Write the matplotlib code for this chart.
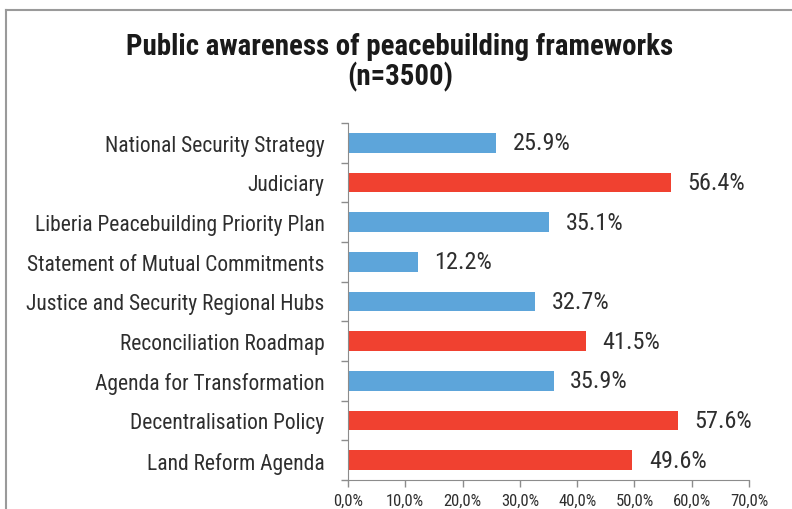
import matplotlib
matplotlib.use("Agg")
import matplotlib.pyplot as plt
from matplotlib.lines import Line2D
from matplotlib.ticker import FixedLocator, FuncFormatter
import numpy as np

categories = [
    "National Security Strategy",
    "Judiciary",
    "Liberia Peacebuilding Priority Plan",
    "Statement of Mutual Commitments",
    "Justice and Security Regional Hubs",
    "Reconciliation Roadmap",
    "Agenda for Transformation",
    "Decentralisation Policy",
    "Land Reform Agenda",
]
values = [25.9, 56.4, 35.1, 12.2, 32.7, 41.5, 35.9, 57.6, 49.6]
highlight = [False, True, False, False, False, True, False, True, True]
x_ticks = [0, 10, 20, 30, 40, 50, 60, 70]

BLUE = "#5DA5DA"
RED = "#F04130"
TEXT = "#2e2e2e"
GRID = "#8c8c8c"

plt.rcParams["font.family"] = ["Roboto Condensed", "DejaVu Sans"]

fig = plt.figure(figsize=(7.92, 5.10), dpi=100)
ax = fig.add_axes([348 / 792, 1 - 481 / 510, 401 / 792, 357 / 510])

y = np.arange(len(categories))
colors = [RED if h else BLUE for h in highlight]
ax.barh(y, values, height=0.5, color=colors, edgecolor="none")

for yi, v in zip(y, values):
    ax.text(v + 2.9, yi, f"{v:.1f}%", va="center", ha="left",
            fontsize=17.5, color=TEXT)

ax.set_ylim(len(categories) - 0.5, -0.5)
ax.set_xlim(0, 70)
ax.set_yticks(y)
ax.set_yticklabels(categories, fontsize=15.5, color=TEXT)
ax.tick_params(axis="y", which="major", length=0, pad=17)
ax.yaxis.set_minor_locator(FixedLocator(np.arange(-0.5, len(categories), 1.0)))
ax.tick_params(axis="y", which="minor", length=5, color=GRID, width=1)

ax.set_xticks(x_ticks)
ax.xaxis.set_major_formatter(FuncFormatter(lambda v, p: f"{v:.1f}%".replace(".", ",")))
ax.tick_params(axis="x", length=5, color=GRID, width=1, labelsize=12,
               labelcolor=TEXT, pad=4)

for s in ["top", "right"]:
    ax.spines[s].set_visible(False)
ax.spines["left"].set_color(GRID)
ax.spines["bottom"].set_color(GRID)

fig.text(400 / 792, 1 - 47 / 510, "Public awareness of peacebuilding frameworks",
         ha="center", va="center", fontsize=20.8, fontweight="bold", color="#1a1a1a")
fig.text(400 / 792, 1 - 77 / 510, "(n=3500)",
         ha="center", va="center", fontsize=20.8, fontweight="bold", color="#1a1a1a")

# outer frame (top and left edges)
fig.add_artist(Line2D([6 / 792, 1], [1 - 10.5 / 510, 1 - 10.5 / 510],
                      transform=fig.transFigure, color="#9a9a9a", lw=1.5))
fig.add_artist(Line2D([6 / 792, 6 / 792], [0, 1 - 10.5 / 510],
                      transform=fig.transFigure, color="#9a9a9a", lw=1.5))

fig.savefig("out.png", dpi=100, facecolor="white")
